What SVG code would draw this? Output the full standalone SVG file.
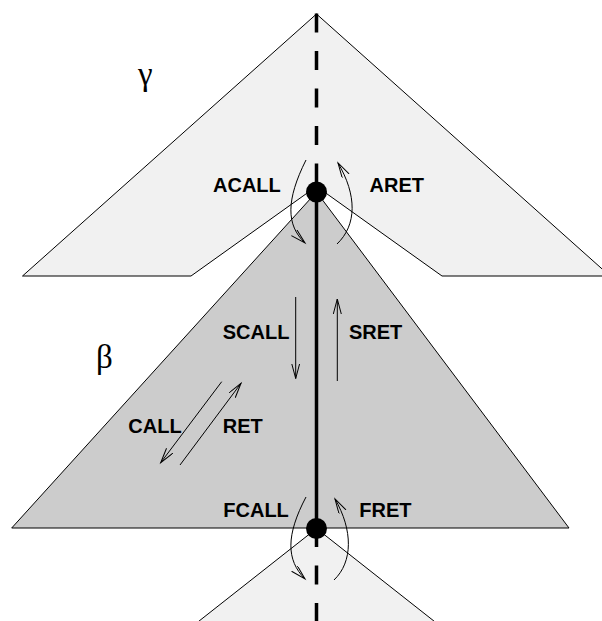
<svg xmlns="http://www.w3.org/2000/svg" width="602" height="621" viewBox="0 0 602 621">
<defs>
<style>
.tri{stroke:#000;stroke-width:1;stroke-linejoin:miter}
.light{fill:#f1f1f1}
.dark{fill:#cccccc}
.lbl{font-family:"Liberation Sans",Arial,sans-serif;font-weight:bold;font-size:20px;fill:#000}
.greek{font-family:"Liberation Serif","Times New Roman",serif;font-size:33px;fill:#000}
.arr{fill:none;stroke:#000;stroke-width:1;marker-end:url(#head)}
.axis{stroke:#000;stroke-width:3.5;fill:none}
.dash{stroke-dasharray:19 18.5}
</style>
<marker id="head" markerUnits="userSpaceOnUse" markerWidth="18" markerHeight="10" refX="15" refY="4" orient="auto">
<path d="M0,0 L15,4 L0,8" fill="none" stroke="#000" stroke-width="1"/>
</marker>
</defs>
<rect width="602" height="621" fill="#fff"/>
<g id="gamma">
<polygon class="tri light" points="316.5,14 610,276 442,276 316.5,186.4 191,276 22.5,276"/>
<text class="greek" x="138" y="85">γ</text>
</g>
<g id="beta">
<polygon class="tri dark" points="316.5,192 569,528 11.7,528"/>
<text class="greek" x="96" y="368">β</text>
</g>
<g id="lower">
<polygon class="tri light" points="316.5,528.5 458,640 175,640"/>
</g>
<g id="connectors">
<line class="axis dash" x1="316.5" y1="13.5" x2="316.5" y2="192"/>
<line class="axis" x1="316.5" y1="192" x2="316.5" y2="528"/>
<line class="axis dash" x1="316.5" y1="528" x2="316.5" y2="625"/>
<path class="arr" d="M306,160 C286,200 286,225 305,243"/>
<path class="arr" d="M337,244 C357,225 357,195 338,163"/>
<path class="arr" d="M306,497 C286,535 286,560 305,579"/>
<path class="arr" d="M334,580 C353,562 353,530 335,499"/>
<path class="arr" d="M295.7,297 L295.7,378.5"/>
<path class="arr" d="M337.3,381 L337.3,299"/>
<path class="arr" d="M221.7,381.7 L160.7,462.7"/>
<path class="arr" d="M180,465 L241,383.3"/>
</g>
<g id="junction-top">
<circle cx="316.5" cy="192" r="10.5" fill="#000"/>
</g>
<g id="junction-bottom">
<circle cx="316.5" cy="528.5" r="10.5" fill="#000"/>
</g>
<g id="labels">
<text class="lbl" x="213" y="191.7">ACALL</text>
<text class="lbl" x="369.5" y="191.7">ARET</text>
<text class="lbl" x="222.7" y="339.3">SCALL</text>
<text class="lbl" x="349" y="339.3">SRET</text>
<text class="lbl" x="128.3" y="433.3">CALL</text>
<text class="lbl" x="222.7" y="433.3">RET</text>
<text class="lbl" x="223.3" y="516.7">FCALL</text>
<text class="lbl" x="359.3" y="516.7">FRET</text>
</g>
</svg>
